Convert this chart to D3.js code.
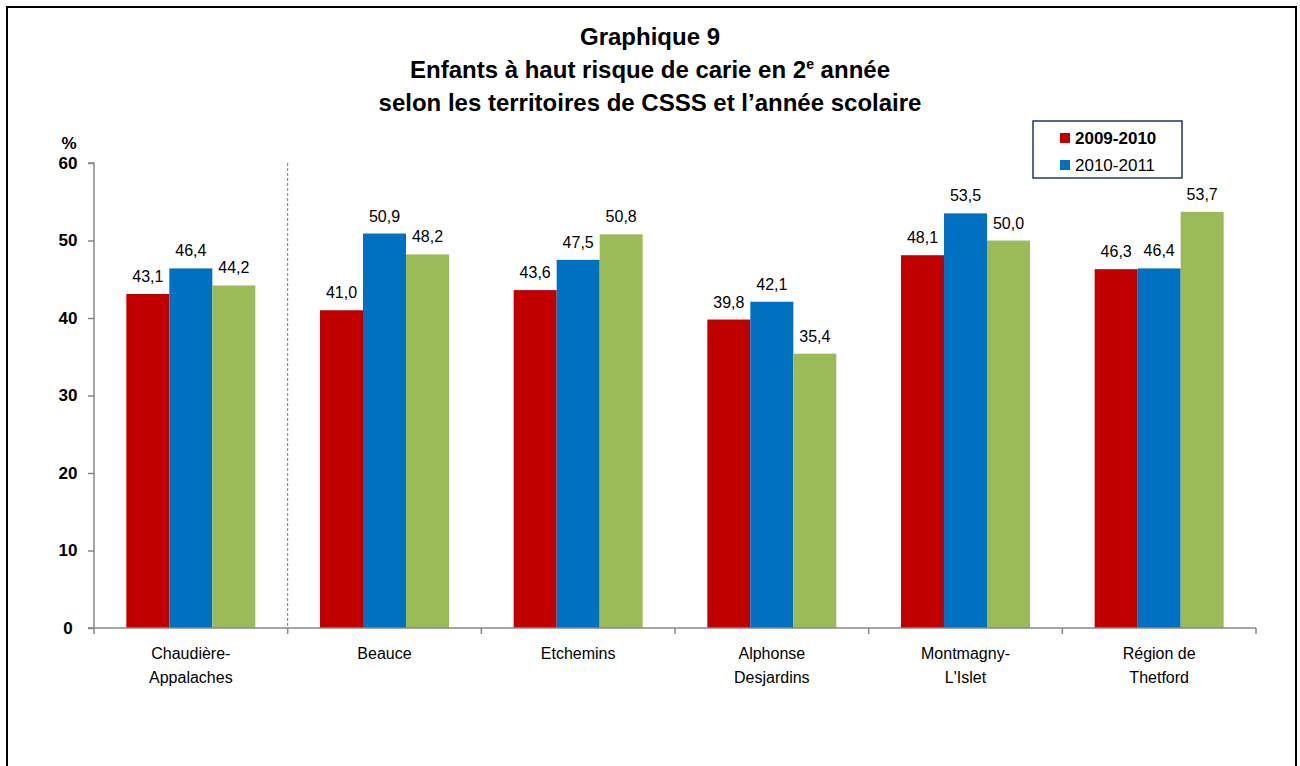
<!DOCTYPE html>
<html><head><meta charset="utf-8">
<script src="https://cdn.jsdelivr.net/npm/d3@7"></script>
<style>
body{margin:0;background:#fff;}
text{font-family:"Liberation Sans Narrow","Arial Narrow","Liberation Sans",Arial,sans-serif;}
</style></head><body>
<svg id="c" width="1300" height="766"></svg>
<script>
const categories = [["Chaudière-","Appalaches"],["Beauce"],["Etchemins"],["Alphonse","Desjardins"],["Montmagny-","L'Islet"],["Région de","Thetford"]];
const series = ["2009-2010","2010-2011","2011-2012"];
const values2009 = [43.1,41.0,43.6,39.8,48.1,46.3];
const values2010 = [46.4,50.9,47.5,42.1,53.5,46.4];
const values2011 = [44.2,48.2,50.8,35.4,50.0,53.7];
const yTicks = [0,10,20,30,40,50,60];
const colors = ["#c00000","#0070c0","#9bbb59"];
const titleLines = ["Graphique 9","Enfants à haut risque de carie en 2","selon les territoires de CSSS et l’année scolaire"];

const svg = d3.select("#c");
svg.append("rect").attr("x",7).attr("y",7).attr("width",1289).attr("height",780)
  .attr("fill","none").attr("stroke","#000").attr("stroke-width",2);

const x0 = d3.scaleBand().domain(d3.range(categories.length)).range([94,1256]).paddingInner(0).paddingOuter(0);
const x1 = d3.scaleBand().domain(series).range([0,x0.bandwidth()]).paddingOuter(0.5/ (1) * 0.5);
const y = d3.scaleLinear().domain([0,60]).range([628,163]);

// title
const t = svg.append("text").attr("text-anchor","middle").attr("font-weight","bold").attr("font-size",24);
t.append("tspan").attr("x",650).attr("y",45).text(titleLines[0]);
const l2 = t.append("tspan").attr("x",650).attr("y",78);
l2.append("tspan").text(titleLines[1]);
l2.append("tspan").attr("font-size",14).attr("dy",-9).text("e");
l2.append("tspan").attr("dy",9).text(" année");
t.append("tspan").attr("x",650).attr("y",111).text(titleLines[2]);

// axes
const yAxis = d3.axisLeft(y).tickValues(yTicks).tickSize(6).tickFormat(d3.format("d"));
const gy = svg.append("g").attr("transform","translate(94,0)").call(yAxis);
gy.select(".domain").attr("stroke","#888").attr("stroke-width",1.5).attr("d","M-6,163H0V628H-6");
gy.selectAll(".tick line").attr("stroke","#888").attr("stroke-width",1.5);
gy.selectAll(".tick text").attr("x",-26).attr("font-size",17).attr("font-weight","bold").attr("fill","#000").attr("text-anchor","middle");
svg.append("text").attr("x",69).attr("y",149).attr("text-anchor","middle").attr("font-size",17).attr("font-weight","bold").text("%");

// bars
const data = categories.map((c,i)=>({i, vals:[values2009[i],values2010[i],values2011[i]]}));
const bw = 43;
const groups = svg.append("g").selectAll("g").data(data).join("g")
  .attr("transform",d=>`translate(${x0(d.i)+x0.bandwidth()/2},0)`);
groups.selectAll("rect").data(d=>d.vals.map((v,k)=>({v,k}))).join("rect")
  .attr("x",d=>(d.k-1.5)*bw).attr("width",bw)
  .attr("y",d=>y(d.v)).attr("height",d=>y(0)-y(d.v)).attr("fill",d=>colors[d.k]);
groups.selectAll("text.v").data(d=>d.vals.map((v,k)=>({v,k}))).join("text").attr("class","v")
  .attr("x",d=>(d.k-1)*bw).attr("y",d=>y(d.v)-12).attr("text-anchor","middle").attr("font-size",16)
  .text(d=>d3.format(".1f")(d.v).replace(".",","));

// x axis
svg.append("line").attr("x1",88).attr("x2",1256).attr("y1",628).attr("y2",628).attr("stroke","#888").attr("stroke-width",1.5);
const xt = d3.range(categories.length+1).map(i=> i<categories.length ? x0(i) : 1256);
svg.selectAll("line.xt").data(xt).join("line").attr("class","xt")
  .attr("x1",d=>d).attr("x2",d=>d).attr("y1",628).attr("y2",634).attr("stroke","#888").attr("stroke-width",1.5);
// separator
svg.append("line").attr("x1",x0(1)).attr("x2",x0(1)).attr("y1",163).attr("y2",628)
  .attr("stroke","#4f81bd").attr("stroke-width",1).attr("stroke-dasharray","3,2");

const cl = svg.selectAll("text.cat").data(categories).join("text").attr("class","cat")
  .attr("text-anchor","middle").attr("font-size",16);
cl.each(function(d,i){
  const s=d3.select(this);
  d.forEach((line,j)=>s.append("tspan").attr("x",x0(i)+x0.bandwidth()/2).attr("y",659+j*24).text(line));
});

// legend
svg.append("rect").attr("x",1033).attr("y",121).attr("width",149).attr("height",57)
  .attr("fill","#fff").attr("stroke","#1f3864").attr("stroke-width",1.5);
[0,1].forEach(k=>{
  svg.append("rect").attr("x",1060).attr("y",133+k*27).attr("width",10).attr("height",10).attr("fill",colors[k]);
  svg.append("text").attr("x",1075).attr("y",144+k*27).attr("font-size",17)
    .attr("font-weight",k===0?"bold":"normal").text(series[k]);
});
</script></body></html>
